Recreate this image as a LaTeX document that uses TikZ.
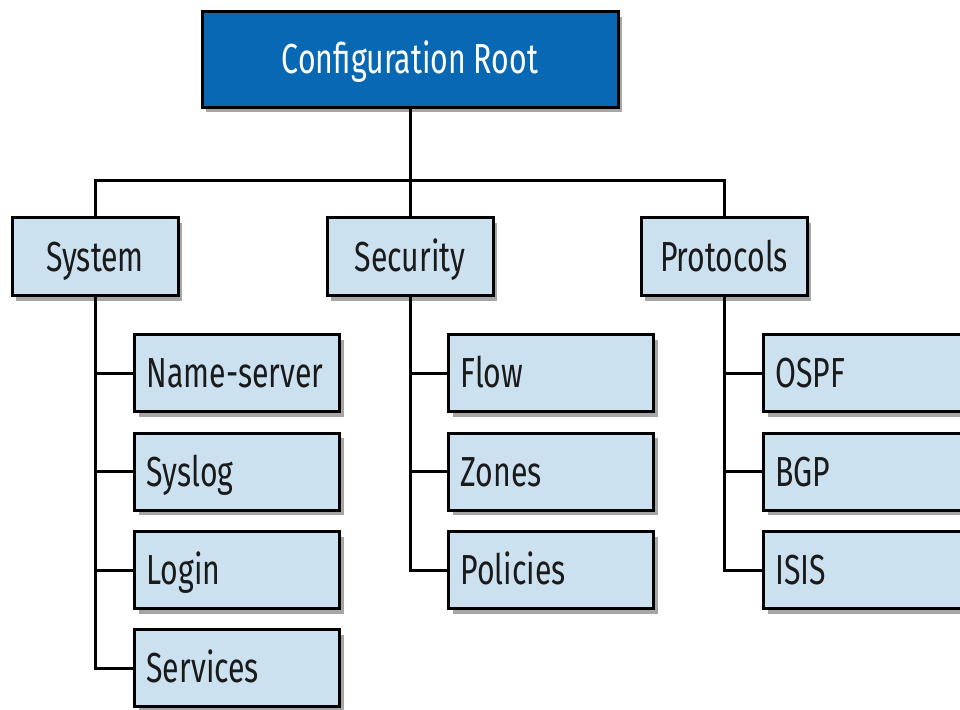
\documentclass[tikz,border=0pt]{standalone}
\usepackage{fontspec}
\setmainfont{Fira Sans}[FakeStretch=0.72]
\definecolor{cfgblue}{RGB}{8,104,180}
\definecolor{cfglight}{RGB}{204,225,240}
\definecolor{cfgtext}{RGB}{26,26,26}
\usetikzlibrary{shadows}

\begin{document}
\begin{tikzpicture}[
  x=1pt, y=-1pt,
  cfgbox/.style={
    rectangle, draw=black, line width=3pt,
    fill=cfglight, text=cfgtext,
    font=\fontsize{42}{48}\selectfont,
    text height=29pt, text depth=0pt,
    drop shadow={shadow xshift=4pt, shadow yshift=-5pt, opacity=0.35, fill=black}
  },
  topbox/.style={cfgbox, fill=cfgblue, text=white,
    minimum width=416pt, minimum height=95pt},
  secbox/.style={cfgbox, minimum width=166pt, minimum height=78pt},
  leafbox/.style={cfgbox, anchor=west, text width=181pt, align=left,
    inner xsep=12pt, minimum height=77pt},
  link/.style={line width=3pt, draw=black}
]
\useasboundingbox (0,0) rectangle (960,709);
\clip (0,0) rectangle (960,709);

\node[topbox] (root) at (410,59.5) {Configuration Root};

\node[secbox] (sys)   at (95,256.5)  {System};
\node[secbox] (sec)   at (410,256.5) {Security};
\node[secbox] (proto) at (724,256.5) {Protocols};

\node[leafbox] (ns)     at (133,373)   {Name-server};
\node[leafbox] (syslog) at (133,471.5) {Syslog};
\node[leafbox] (login)  at (133,570)   {Login};
\node[leafbox] (serv)   at (133,668)   {Services};

\node[leafbox] (flow)  at (447,373)   {Flow};
\node[leafbox] (zones) at (447,471.5) {Zones};
\node[leafbox] (pol)   at (447,570)   {Policies};

\node[leafbox] (ospf) at (762,373)   {OSPF};
\node[leafbox] (bgp)  at (762,471.5) {BGP};
\node[leafbox] (isis) at (762,570)   {ISIS};

\coordinate (bus) at (410,180);

% tree lines
\draw[link] (root.south) -- (sec.north);
\draw[link] (sys.north) |- (bus) -| (proto.north);

\draw[link] (sys.south) |- (ns.west);
\draw[link] (sys.south) |- (syslog.west);
\draw[link] (sys.south) |- (login.west);
\draw[link] (sys.south) |- (serv.west);

\draw[link] (sec.south) |- (flow.west);
\draw[link] (sec.south) |- (zones.west);
\draw[link] (sec.south) |- (pol.west);

\draw[link] (proto.south) |- (ospf.west);
\draw[link] (proto.south) |- (bgp.west);
\draw[link] (proto.south) |- (isis.west);
\end{tikzpicture}
\end{document}
